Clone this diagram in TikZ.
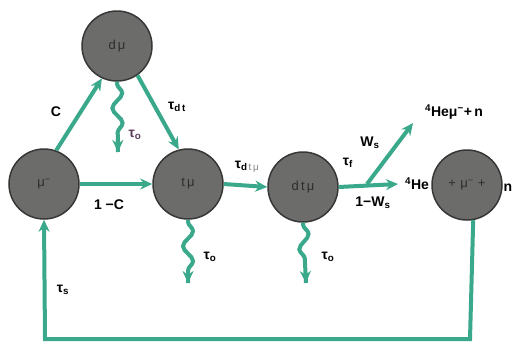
\documentclass[tikz,border=0pt]{standalone}
\usepackage{fontspec}
\setmainfont{Liberation Sans}
\usetikzlibrary{arrows.meta,decorations.pathmorphing}
\definecolor{grn}{RGB}{58,168,138}
\definecolor{ball}{RGB}{108,108,106}
\definecolor{ballline}{RGB}{55,55,55}
\definecolor{balltext}{RGB}{45,45,45}
\definecolor{purp}{RGB}{90,60,90}
\tikzset{
  ball/.style={circle,fill=ball,draw=ballline,line width=1.5pt,minimum size=70pt,inner sep=0pt,font=\fontsize{13}{13}\selectfont,text=balltext},
  flow/.style={draw=grn,line width=4pt,-{Stealth[length=12pt,width=11pt]}},
  wave/.style={draw=grn,line width=4pt,decorate,decoration={snake,amplitude=5pt,segment length=30pt,pre length=2pt,post length=10pt}},
  lab/.style={font=\bfseries\fontsize{14}{14}\selectfont,inner sep=0pt},
}
\begin{document}
\begin{tikzpicture}[x=1pt,y=-1pt]
\useasboundingbox (0,0) rectangle (514,349);
\fill[white] (0,0) rectangle (514,349);
% balls
\node[ball] (dmu) at (117,46) {d\,μ};
\node[ball] (mu) at (44,184) {μ\textsuperscript{−}};
\node[ball] (tmu) at (188,184) {t\,μ};
\node[ball] (dtmu) at (303,187) {d\,t\,μ};
\node[ball] (mu2) at (467,185) {+\,\,μ\textsuperscript{−}\,\,+};
% coordinates
\coordinate (w1e) at (118,152);
\coordinate (w2e) at (188,283);
\coordinate (w3e) at (306,283);
\coordinate (br) at (367,184);
\coordinate (he) at (398,184);
\coordinate (hemu) at (413,123);
\coordinate (c1) at (470,339);
\coordinate (c2) at (45,339);
% connectors
\draw[flow] (mu.70) -- (dmu.245);
\draw[flow] (dmu.-55) -- (tmu.105);
\draw[flow] (mu.east) -- (tmu.west);
\draw[flow] (tmu.east) -- (dtmu.west);
\draw[flow] (dtmu.east) -- (he);
\draw[flow] (br) -- (hemu);
\draw[wave] (dmu.south) -- (w1e);
\draw[flow,shorten <=58pt] (dmu.south) -- (w1e);
\draw[wave] (tmu.south) -- (w2e);
\draw[flow,shorten <=52pt] (tmu.south) -- (w2e);
\draw[wave] (dtmu.south) -- (w3e);
\draw[flow,shorten <=50pt] (dtmu.south) -- (w3e);
\draw[flow,line join=miter] (mu2.-80) -- (c1) -- (c2) -- (mu.south);
% labels
\node[lab] (lC) at (56,112) {C};
\node[lab] (ldt) at (177,107) {τ\textsubscript{d\,t}};
\node[lab,text=purp] (lt0a) at (135,135) {τ\textsubscript{o}};
\node[lab] (l1C) at (109,205) {1 −C};
\node[lab] (ldtmu) at (247,167) {τ\textsubscript{d\,{\color{gray}\mdseries t\,μ}}};
\node[lab] (lt0b) at (210,257) {τ\textsubscript{o}};
\node[lab] (lt0c) at (328,257) {τ\textsubscript{o}};
\node[lab] (ltf) at (348,163) {τ\textsubscript{f}};
\node[lab] (lWs) at (370,143) {W\textsubscript{s}};
\node[lab] (l1W) at (373,203) {1−W\textsubscript{s}};
\node[lab] (lhe) at (417,184) {\textsuperscript{4}He};
\node[lab] (lhemu) at (454,112) {\textsuperscript{4}Heμ\textsuperscript{−}+\,n};
\node[lab] (ln) at (508,188) {n};
\node[lab] (lts) at (63,290) {τ\textsubscript{s}};
\end{tikzpicture}
\end{document}
